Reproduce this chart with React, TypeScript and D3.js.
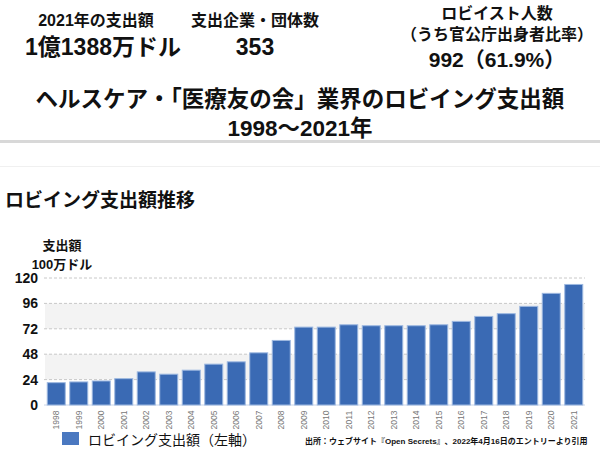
import React from "react";
import * as d3 from "d3";

const years = [
  "1998", "1999", "2000", "2001", "2002", "2003", "2004", "2005", "2006", "2007", "2008", "2009",
  "2010", "2011", "2012", "2013", "2014", "2015", "2016", "2017", "2018", "2019", "2020", "2021",
];
const spending = [
  21.1, 21.8, 22.7, 24.9, 31.3, 29.1, 32.9, 38.6, 40.8, 49.3, 61.0, 73.6,
  73.6, 75.8, 74.9, 74.9, 74.9, 75.8, 79.0, 83.7, 86.3, 93.2, 105.5, 113.9,
];
const yTicks = [0, 24, 48, 72, 96, 120];

const W = 600;
const H = 452;
const FONT = "'Liberation Sans', 'Noto Sans CJK JP', Arial, sans-serif";
const BAR = "#3a6ab4";

export default function App() {
  const x = d3.scaleBand().domain(years).range([45, 585]).paddingInner(0.2).paddingOuter(0.1);
  const y = d3.scaleLinear().domain([0, 120]).range([405, 278]);

  const bands = [
    [24, 48],
    [72, 96],
  ];

  return (
    <svg width={W} height={H} style={{ position: "absolute", left: 0, top: 0, background: "#fff" }} fontFamily={FONT}>
      {/* header stats */}
      <g fill="#111" textAnchor="middle">
        <text x={96} y={26} fontSize={16} fontWeight="bold">2021年の支出額</text>
        <text x={103} y={55} fontSize={23} fontWeight="bold">1億1388万ドル</text>
        <text x={255} y={26} fontSize={16} fontWeight="bold">支出企業・団体数</text>
        <text x={255} y={55} fontSize={23} fontWeight="bold">353</text>
        <text x={497} y={19} fontSize={16} fontWeight="bold">ロビイスト人数</text>
        <text x={497} y={40} fontSize={16} fontWeight="bold">（うち官公庁出身者比率）</text>
        <text x={497} y={67} fontSize={21} fontWeight="bold">992（61.9%）</text>
        <text x={300} y={107} fontSize={22.5} fontWeight="bold">ヘルスケア・「医療友の会」業界のロビイング支出額</text>
        <text x={300} y={136} fontSize={22.5} fontWeight="bold">1998～2021年</text>
      </g>

      {/* separators */}
      <rect x={0} y={140} width={W} height={3} fill="#d8d8d8" />
      <rect x={0} y={166} width={W} height={1} fill="#f0f0f0" />

      <text x={5} y={207} fontSize={19} fontWeight="bold" fill="#111">ロビイング支出額推移</text>

      {/* axis title */}
      <text x={62} y={250} fontSize={13} fontWeight="bold" textAnchor="middle" fill="#111">支出額</text>
      <text x={62} y={269} fontSize={13} fontWeight="bold" textAnchor="middle" fill="#111">100万ドル</text>

      {/* alternating bands */}
      {bands.map(([a, b]) => (
        <rect key={a} x={45} y={y(b)} width={540} height={y(a) - y(b)} fill="#f3f3f3" />
      ))}

      {/* gridlines */}
      {yTicks.map((t) => (
        <g key={t}>
          {t > 0 && (
            <line x1={44} x2={585} y1={y(t)} y2={y(t)} stroke="#c8c8c8" strokeDasharray="3,2" strokeWidth={1} />
          )}
          <text x={38} y={y(t) + 5} fontSize={14} fontWeight="bold" textAnchor="end" fill="#111">{t}</text>
        </g>
      ))}
      <line x1={44} x2={585} y1={y(0)} y2={y(0)} stroke="#c8d4e8" strokeWidth={1} />

      {/* bars */}
      {spending.map((v, i) => (
        <rect
          key={years[i]}
          x={x(years[i])}
          y={y(v)}
          width={x.bandwidth()}
          height={y(0) - y(v)}
          fill={BAR}
          stroke="#9db8e0"
          strokeWidth={1}
        />
      ))}

      {/* x tick labels */}
      {years.map((yr) => {
        const cx = (x(yr) ?? 0) + x.bandwidth() / 2;
        return (
          <text
            key={yr}
            transform={`translate(${cx + 3},${420}) rotate(-90)`}
            fontSize={8.5}
            fill="#777"
            textAnchor="middle"
          >
            {yr}
          </text>
        );
      })}

      {/* legend */}
      <rect x={62} y={432} width={17} height={13} fill="#4a78c0" />
      <text x={88} y={445} fontSize={14} fill="#111">ロビイング支出額（左軸）</text>
      <text x={305} y={444} fontSize={8} fontWeight="bold" fill="#111">
        出所：ウェブサイト『Open Secrets』、2022年4月16日のエントリーより引用
      </text>
    </svg>
  );
}
